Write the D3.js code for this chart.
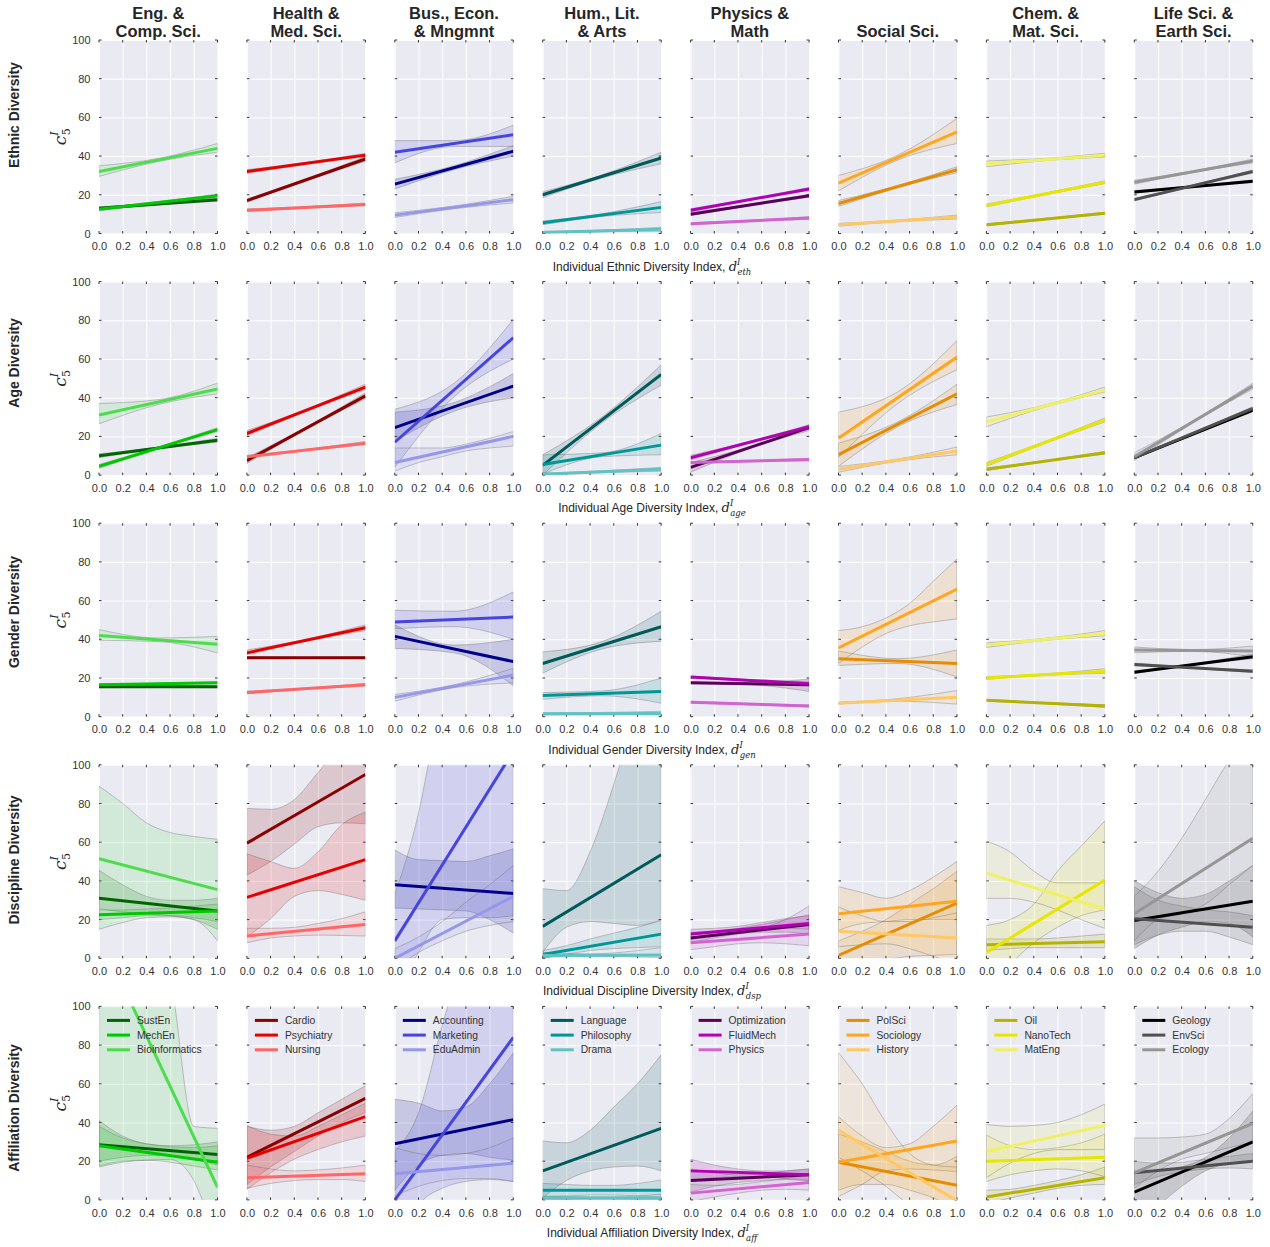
<!DOCTYPE html>
<html><head><meta charset="utf-8">
<script src="https://cdn.jsdelivr.net/npm/d3@7"></script>
<style>body{margin:0;background:#fff}</style>
</head><body>
<script>
// ---------------- DATA ----------------
const COLUMN_TITLES = [["Eng. &","Comp. Sci."],["Health &","Med. Sci."],["Bus., Econ.","& Mngmnt"],["Hum., Lit.","& Arts"],["Physics &","Math"],["","Social Sci."],["Chem. &","Mat. Sci."],["Life Sci. &","Earth Sci."]];
const ROW_TITLES = ["Ethnic Diversity","Age Diversity","Gender Diversity","Discipline Diversity","Affiliation Diversity"];
const X_AXIS_TITLES = ["Individual Ethnic Diversity Index, ","Individual Age Diversity Index, ","Individual Gender Diversity Index, ","Individual Discipline Diversity Index, ","Individual Affiliation Diversity Index, "];
const X_AXIS_SUBS = ["eth","age","gen","dsp","aff"];
const SERIES_NAMES = [["SustEn","MechEn","Bioinformatics"],["Cardio","Psychiatry","Nursing"],["Accounting","Marketing","EduAdmin"],["Language","Philosophy","Drama"],["Optimization","FluidMech","Physics"],["PolSci","Sociology","History"],["Oil","NanoTech","MatEng"],["Geology","EnvSci","Ecology"]];
const X_TICKS = [0,0.2,0.4,0.6,0.8,1.0];
const Y_TICKS = [0,20,40,60,80,100];

// fitted lines: [value at x=0, value at x=1] per column, per series
const ETHNIC_FIT = [
 [[13,17.5],[12.5,19.5],[32,44]],
 [[17,38.5],[32,40.5],[12,15]],
 [[25.5,42.5],[42,51],[9.5,17.5]],
 [[20,39],[5.5,13.5],[0.5,2.2]],
 [[10,19.5],[12,23],[5,8]],
 [[15.5,33],[26,52.5],[4.5,8.5]],
 [[4.5,10.5],[14.5,26.5],[36,40.5]],
 [[21.5,27],[17.5,32],[26.5,37.5]]
];
// confidence bands: [lower[], upper[]] sampled evenly over x in [0,1]
const ETHNIC_BAND = [
 [[[12.2,14.8,16.7],[13.8,15.7,18.3]],[[11.7,15.5,18.6],[13.3,16.5,20.4]],[[29.5,37.2,42],[35,38.8,46.5]]],
 [[[16.2,27.2,37.3],[17.8,28.3,39.7]],[[31,35.7,39.5],[33,36.8,41.5]],[[11.3,13.1,14.3],[12.7,13.9,15.7]]],
 [[[23,33,40],[28,35,45.5]],[[36.5,45,45],[48,48,56]],[[8.3,12.8,15.8],[10.7,14.2,19.2]]],
 [[[18.5,28.7,36],[21.5,30.3,42]],[[4.5,8.8,10.8],[6.5,10.2,16.5]],[[0,1,1.2],[1.1,1.7,3.2]]],
 [[[9.2,14.3,18.7],[10.8,15.2,20.3]],[[11.2,17.1,22.2],[12.8,17.9,23.8]],[[4.4,6.2,7.3],[5.6,6.8,8.7]]],
 [[[14,23.7,31.5],[17,24.8,34.5]],[[22,38,46.5],[30,40.5,59.5]],[[3.8,6.1,7.5],[5.2,6.9,9.5]]],
 [[[4,7.2,10],[5,7.8,11]],[[13.8,20.1,25.8],[15.2,20.9,27.2]],[[34.5,37.7,39.5],[37.5,38.8,41.5]]],
 [[[20.8,23.9,26.3],[22.2,24.6,27.7]],[[16.8,24.4,31.2],[18.2,25.1,32.8]],[[25.5,31.6,36.5],[27.5,32.4,38.5]]]
];

const AGE_FIT = [
 [[10,18],[4.5,23.5],[31,44.5]],
 [[7.5,41],[21.5,45.5],[9.5,16.5]],
 [[24.5,46],[17,71],[6.5,20]],
 [[5,52],[5.5,15.5],[0.5,3]],
 [[4,24.5],[9,25],[6.5,8]],
 [[10.5,42],[19,61],[3,12.5]],
 [[3,11.5],[5.5,28.5],[27.5,44]],
 [[9,33.5],[9,34.5],[9.5,46]]
];
const AGE_BAND = [
 [[[9,13.6,17],[11,14.4,19]],[[3.5,13.5,22.5],[5.5,14.5,24.5]],[[26.5,36.5,42],[37,39,47.5]]],
 [[[6,23.7,39.5],[9,24.8,42.5]],[[20.3,33,44.2],[23,34,47]],[[8.8,12.7,15.8],[10.2,13.3,17.4]]],
 [[[17.5,33,40],[32.5,37.5,52.5]],[[4,40.5,60],[34,47.5,80.5]],[[2,6.5,9.5,12.5,14,15],[14,14,14,16,19,22.5]]],
 [[[0,27,46.5],[10.5,30,57]],[[0.5,9.5,10.5],[10.5,11.5,21.5]],[[0,1.3,2],[1,2.2,4]]],
 [[[1.5,13.7,23],[6.5,14.8,26]],[[7.8,16.5,24],[10.2,17.5,26]],[[6,7,7.3],[7,7.5,8.7]]],
 [[[4.5,25,36.5],[16.5,27.5,47]],[[9,37,54.5],[32.5,43,69.5]],[[1.5,7.2,10.5],[4.5,8.3,14.5]]],
 [[[2.3,7,10.8],[3.7,7.5,12.2]],[[4.5,16.5,27.5],[6.5,17.5,29.5]],[[25,35.2,43],[30,36.3,45.5]]],
 [[[8.3,20.8,32.7],[9.7,21.7,34.3]],[[8.3,21.3,33.7],[9.7,22.2,35.3]],[[7.5,27.2,44.5],[11.5,28.3,47.5]]]
];

const GENDER_FIT = [
 [[15.5,15.5],[16.5,17.5],[42,37.5]],
 [[30.5,30.5],[33,46],[12.5,16.5]],
 [[41.5,28.5],[49,51.5],[10,21.5]],
 [[27.5,46.5],[11,13],[1.5,1.7]],
 [[17.5,16.5],[20.5,17],[7.5,5.5]],
 [[30,27.5],[35.5,66],[7,10]],
 [[8.5,5.5],[20,23.5],[37,43]],
 [[23,31],[27,23.5],[34.5,34]]
];
const GENDER_BAND = [
 [[[15,15.1,15],[16,15.9,16]],[[16,16.7,17],[17,17.3,18]],[[39.5,38.8,33],[45,40.7,41.5]]],
 [[[30,30.2,30],[31,30.8,31]],[[32,39,44.5],[34.5,40,47.5]],[[11.8,14.2,15.8],[13.2,14.8,17.2]]],
 [[[35.3,33,16],[47.5,37,40]],[[45.5,46.5,40],[55,54.5,64.5]],[[8,15,17.5],[11.5,16.5,25]]],
 [[[22.5,35,39],[33.5,38.8,54.5]],[[9,10.8,7],[12.5,13.3,20]],[[1,1.2,1],[2,2.2,2.8]]],
 [[[17,16.5,13],[18,17.5,19.5]],[[20,18.3,16],[21,19.2,18]],[[7,6.2,5],[8,6.8,6]]],
 [[[26.5,27.5,20.5],[34,30,34.5]],[[27.5,36,43,47,49,50.5],[44.5,46.5,51,58.5,70,81.5]],[[6.5,8,6.5],[7.5,9.3,13.5]]],
 [[[8,6.7,4.8],[9,7.3,6.2]],[[19.3,21.4,22.5],[20.7,22.1,24.8]],[[35.8,39.5,41.8],[38.2,40.5,44.5]]],
 [[[22.3,26.7,30],[23.7,27.3,32.5]],[[26.3,24.9,22.8],[27.7,25.6,24.2]],[[33,33.8,31],[36,34.7,36.5]]]
];

const DISCIPLINE_FIT = [
 [[31,24.5],[22.5,24.5],[51.5,35.5]],
 [[59.5,95],[31.5,51],[11.5,17.5]],
 [[38,33.5],[9,107],[0,32]],
 [[16.5,53.5],[2,12.5],[1.5,1.7]],
 [[10.5,17.5],[12.5,18],[8,12.5]],
 [[1.5,28.5],[23,29.5],[14,10.5]],
 [[7,8.5],[3,40.5],[44,25.5]],
 [[19.5,29.5],[20.5,16],[23,62]]
];
const DISCIPLINE_BAND = [
 [[[25.5,24,23,22,20,15],[45.5,38,32,30,30,31]],[[20,21,22,22,21,19],[25,25,25.5,26,27,28]],[[15,18.5,21,21.5,20,9],[89,80,70,65,63,61.5]]],
 [[[43,50,59,68,70,69.5],[77.5,77,82,96,110,120]],[[11,20.5,32,35,33,30],[54,50,46.5,55,69,75.5]],[[8,10.5,11.5,12,11.8,11.5],[15.5,15.5,16,18,20.5,24]]],
 [[[26,25.5,25,24.5,20,13],[56,51,50.5,50,53,56.5]],[[-20,3,20,21,21,22],[33,75,140,200,250,300]],[[-6,3,9,14,17,19],[5,11,19,29,38,48]]],
 [[[3,16,19,18,17,20],[36,35,55,90,130,170]],[[0,2,4,5,5.5,6],[4,6.5,10,13,16,19.5]],[[0.5,1,1,1,0.8,0.5],[3,2.5,2.3,2.8,4,5.5]]],
 [[[8,10.5,12.5,13.5,13.5,12.5],[13.5,14,15.5,17.5,20,22.5]],[[10,12,13.5,15,15.5,15],[15,15.5,16.5,18.5,20.5,22]],[[4.5,6,7.5,8,7.5,6.5],[11,11.5,13,15.5,20,27]]],
 [[[-8,-4,-1,1,1.5,2],[9,14,20,28,36,45]],[[14.5,18,19,20,20,20],[37,34,31,35,42,50]],[[6,7,7.5,5,1,-3],[26.5,22,19,19,21,23.5]]],
 [[[4,5,5.5,5.5,5.5,5.5],[10,10,10,10.5,11.5,12.5]],[[-15,-3,8,16,22,25],[17,20,28,45,58,71]],[[31,31,29,25,20,15.5],[60.5,55,45,39,39,39]]],
 [[[5,12,16,19,18,11],[40,34,31,33,40,48]],[[7,12,14,14,11,7],[37,30,27,25,24,22]],[[9,20,23,28,38,48],[32,45,62,82,102,115]]]
];

const AFFILIATION_FIT = [
 [[28.5,23.5],[28,19.5],[137,6.5]],
 [[22,52.5],[21.5,43],[11.5,13.5]],
 [[29,41.5],[0,84],[13.5,19]],
 [[15,37],[5,5],[1,1]],
 [[10,13],[15,13],[3.5,9]],
 [[19.5,7.5],[19.5,30.5],[36,-0.5]],
 [[1.5,11.5],[20,22],[25,38.5]],
 [[4,30],[14,20],[14,39.5]]
];
const AFFILIATION_BAND = [
 [[[20,22,23,23,21,18],[41,33,29,28,28.5,30]],[[17.5,20,20.5,19.5,17.5,15.5],[38,32,29,27.5,27,28]],[[17,19.5,20.5,21,10,-25],[180,160,140,115,38,37]]],
 [[[8,17,25,33,40,45],[38,36,38,45,52,59]],[[5.5,14,21,26,30,33],[38.5,34,33,38,44,50]],[[6,8.5,10,10.5,10.5,9.5],[18,16,15,15.5,16.5,18]]],
 [[[5,18,23,24,22,20.5],[52,50,46,48,60,76]],[[-60,-3,6,9.5,10.5,9.5],[25,45,90,130,160,190]],[[2,7,10,11,11,9.5],[27,24,23,24,27,32]]],
 [[[1,10,15,17,17.5,15],[30.5,29.5,36,48,60,75]],[[1.5,2,2.5,2.5,2,1.5],[8.5,8,7.5,7.5,8.5,10.3]],[[0,0.2,0.4,0.4,0.2,0],[2,1.8,1.6,1.6,2,3]]],
 [[[4,7,9,10,10.5,10],[16,14,13,13.5,15,16]],[[9.5,11.5,12,12,11,10],[21,18,16,15,15,16]],[[-1,1.5,3.5,5,5.5,5],[8,7.5,8,9.5,11,13]]],
 [[[5,8,8,5,1,-5],[34,30,25,20,18,22.5]],[[1.7,8,15,16,15.5,14.7],[43,33,27,29,38,49]],[[22,15,7,-3,-12,-20],[76,60,40,24,18,17]]],
 [[[-2,1,3.5,6,7.5,8],[5,5.5,7.5,10,13,17]],[[9.5,13,15,16,15,12],[33.5,28,26,27,29.5,34]],[[11.5,19,24,26,26,26],[39,38,38.5,40,44,49.5]]],
 [[[-12,-3,7,15,19,20],[15,15,17,22,32,46]],[[8,12,14.5,16,16.5,16],[20,19,19.5,21,22.5,24]],[[6,15,21,24,27,30],[32,32,32.5,34,42,55]]]
];

const ROW_FITS = [ETHNIC_FIT, AGE_FIT, GENDER_FIT, DISCIPLINE_FIT, AFFILIATION_FIT];
const ROW_BANDS = [ETHNIC_BAND, AGE_BAND, GENDER_BAND, DISCIPLINE_BAND, AFFILIATION_BAND];

// ---------------- STYLE / LAYOUT ----------------
const PALETTE = [
 ["#006400","#00C800","#4CDC4C"],
 ["#8B0000","#E60000","#FF6666"],
 ["#00008B","#4646DC","#9696EB"],
 ["#005A5A","#009696","#5FC3C3"],
 ["#5A005A","#B400B4","#D264D2"],
 ["#E68C00","#FFA51E","#FFC864"],
 ["#B4B400","#E6E600","#F0F064"],
 ["#000000","#505050","#969696"]
];
const L = {x0:99, dx:147.9, w:118.5, y0:40, dy:241.6, h:193.5};
const ROW_LABEL_Y = [115,363,612,860,1108];
const SANS = "'Liberation Sans', Arial, Helvetica, sans-serif";
const SERIF = "'DejaVu Serif', 'Liberation Serif', serif";
const TXT = "#262626";

const svg = d3.select("body").append("svg")
  .attr("width",1270).attr("height",1247)
  .style("background","#fff");

// column titles
COLUMN_TITLES.forEach((lines,c)=>{
  const cx = L.x0 + c*L.dx + L.w/2;
  lines.forEach((t,k)=>{
    if(!t) return;
    svg.append("text").attr("x",cx).attr("y",19+k*17.7)
      .attr("text-anchor","middle").attr("font-family",SANS)
      .attr("font-weight","bold").attr("font-size",16.5).attr("fill",TXT).text(t);
  });
});

ROW_FITS.forEach((fits,r)=>{
  const py = L.y0 + r*L.dy;
  // row label
  svg.append("text").attr("transform",`translate(18.5,${ROW_LABEL_Y[r]}) rotate(-90)`)
    .attr("text-anchor","middle").attr("font-family",SANS).attr("font-weight","bold")
    .attr("font-size",14).attr("fill",TXT).text(ROW_TITLES[r]);
  // y label c_5^I
  const yl = svg.append("text").attr("transform",`translate(66,${py+L.h/2}) rotate(-90)`)
    .attr("text-anchor","middle").attr("font-family",SERIF).attr("fill",TXT).attr("font-size",17);
  yl.append("tspan").attr("font-style","italic").text("c");
  yl.append("tspan").attr("font-size",11).attr("font-style","italic").attr("dy",-8).text("I");
  yl.append("tspan").attr("font-size",11).attr("dx",-4).attr("dy",12).text("5");
  // x axis title
  const xl = svg.append("text").attr("x",652).attr("y",py+L.h+37)
    .attr("text-anchor","middle").attr("font-family",SANS).attr("font-size",12).attr("fill",TXT);
  xl.append("tspan").text(X_AXIS_TITLES[r]);
  xl.append("tspan").attr("font-family",SERIF).attr("font-style","italic").attr("font-size",13).text("d");
  xl.append("tspan").attr("font-family",SERIF).attr("font-style","italic").attr("font-size",8.5).attr("dy",-6).text("I");
  xl.append("tspan").attr("font-family",SERIF).attr("font-style","italic").attr("font-size",8.5).attr("dx",-3).attr("dy",10).text(X_AXIS_SUBS[r]);

  fits.forEach((colFits,c)=>{
    const px = L.x0 + c*L.dx;
    const x = d3.scaleLinear().domain([0,1]).range([px,px+L.w]);
    const y = d3.scaleLinear().domain([0,100]).range([py+L.h,py]);
    const g = svg.append("g");
    const clipId = `clip-${r}-${c}`;
    svg.append("clipPath").attr("id",clipId).append("rect")
      .attr("x",px).attr("y",py).attr("width",L.w).attr("height",L.h);
    g.append("rect").attr("x",px).attr("y",py).attr("width",L.w).attr("height",L.h).attr("fill","#EAEAF2");
    // grid
    const gx = g.append("g").attr("transform",`translate(0,${py+L.h})`)
      .call(d3.axisBottom(x).tickValues(X_TICKS).tickSize(-L.h).tickFormat(""));
    const gy = g.append("g").attr("transform",`translate(${px},0)`)
      .call(d3.axisLeft(y).tickValues(Y_TICKS).tickSize(-L.w).tickFormat(""));
    [gx,gy].forEach(a=>{a.select(".domain").remove();a.selectAll("line").attr("stroke","#fff").attr("stroke-width",1);});
    // small edge ticks
    const tk = g.append("g").attr("stroke","#333").attr("stroke-width",1);
    X_TICKS.forEach(v=>{
      tk.append("line").attr("x1",x(v)).attr("x2",x(v)).attr("y1",py).attr("y2",py+2.5);
      tk.append("line").attr("x1",x(v)).attr("x2",x(v)).attr("y1",py+L.h).attr("y2",py+L.h-2.5);
    });
    Y_TICKS.forEach(v=>{
      tk.append("line").attr("x1",px).attr("x2",px+2.5).attr("y1",y(v)).attr("y2",y(v));
      tk.append("line").attr("x1",px+L.w).attr("x2",px+L.w-2.5).attr("y1",y(v)).attr("y2",y(v));
    });
    // tick labels
    const ax = g.append("g").attr("transform",`translate(0,${py+L.h})`)
      .call(d3.axisBottom(x).tickValues(X_TICKS).tickFormat(d3.format(".1f")).tickSize(0).tickPadding(9));
    ax.select(".domain").remove();
    ax.selectAll("text").attr("font-family",SANS).attr("font-size",11).attr("fill","#333");
    if(c===0){
      const ay = g.append("g").attr("transform",`translate(${px},0)`)
        .call(d3.axisLeft(y).tickValues(Y_TICKS).tickSize(0).tickPadding(8.5));
      ay.select(".domain").remove();
      ay.selectAll("text").attr("font-family",SANS).attr("font-size",11).attr("fill","#333");
    }
    // bands then lines
    const plot = g.append("g").attr("clip-path",`url(#${clipId})`);
    const bands = ROW_BANDS[r][c];
    bands.forEach((b,s)=>{
      const data = b[0].map((lo,i)=>({t:i/(b[0].length-1),lo:lo,hi:b[1][i]}));
      const area = d3.area().x(d=>x(d.t)).y0(d=>y(d.lo)).y1(d=>y(d.hi)).curve(d3.curveMonotoneX);
      plot.append("path").attr("d",area(data)).attr("fill",PALETTE[c][s]).attr("fill-opacity",0.15)
        .attr("stroke","#646464").attr("stroke-opacity",0.35).attr("stroke-width",1);
    });
    const line = d3.line().x(d=>x(d[0])).y(d=>y(d[1]));
    colFits.forEach((f,s)=>{
      plot.append("path").attr("d",line([[0,f[0]],[1,f[1]]])).attr("fill","none")
        .attr("stroke",PALETTE[c][s]).attr("stroke-width",3);
    });
    // legend on last row
    if(r===ROW_FITS.length-1){
      SERIES_NAMES[c].forEach((name,s)=>{
        const ly = py + 14 + s*14.7;
        g.append("line").attr("x1",px+8).attr("x2",px+31).attr("y1",ly).attr("y2",ly)
          .attr("stroke",PALETTE[c][s]).attr("stroke-width",3);
        g.append("text").attr("x",px+38).attr("y",ly).attr("dy","0.35em")
          .attr("font-family",SANS).attr("font-size",10.3).attr("fill","#333").text(name);
      });
    }
  });
});
</script></body></html>
